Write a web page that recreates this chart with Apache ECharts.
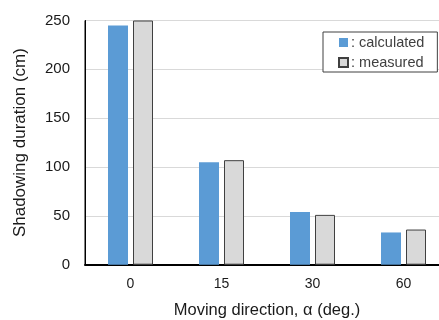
<!DOCTYPE html>
<html>
<head>
<meta charset="utf-8">
<script src="https://cdn.jsdelivr.net/npm/echarts@6/dist/echarts.min.js"></script>
<style>
  html, body { margin: 0; padding: 0; background: #fff; }
  #chart { width: 439px; height: 320px; }
</style>
</head>
<body>
<div id="chart"></div>
<script>
// Shadowing duration by moving direction
const directions = ['0', '15', '30', '60'];
const calculated = [245, 105, 54, 33];
const measured = [250, 107, 51, 36];
const yTicks = [0, 50, 100, 150, 200, 250];

const FONT = '"Liberation Sans", Arial, sans-serif';
const chart = echarts.init(document.getElementById('chart'), null, { renderer: 'canvas' });

chart.setOption({
  animation: false,
  textStyle: { fontFamily: FONT },
  grid: {
    left: 85, right: -10, top: 20.5, bottom: 55.3,
    outerBoundsMode: 'none',
    containLabel: false,
    show: true, borderColor: '#000', borderWidth: 1, backgroundColor: 'transparent'
  },
  legend: {
    orient: 'vertical',
    left: 323, top: 32,
    padding: [3, 13, 2, 15],
    itemGap: 5,
    itemWidth: 9, itemHeight: 9,
    borderColor: '#404040', borderWidth: 1,
    backgroundColor: '#fff',
    icon: 'rect',
    formatter: name => ': ' + name,
    textStyle: { fontFamily: FONT, fontSize: 14.5, color: '#404040', padding: [0, 0, 0, -2] },
    data: ['calculated', 'measured']
  },
  xAxis: {
    type: 'category',
    data: directions,
    axisLine: { lineStyle: { color: '#000', width: 2 } },
    axisTick: { show: false },
    axisLabel: { fontFamily: FONT, fontSize: 14, color: '#1a1a1a', margin: 12 },
    name: 'Moving direction, α (deg.)',
    nameLocation: 'middle',
    nameGap: 37,
    nameTextStyle: { fontFamily: FONT, fontSize: 16.5, color: '#1a1a1a' }
  },
  yAxis: {
    type: 'value',
    min: yTicks[0], max: yTicks[yTicks.length - 1], interval: 50,
    axisLine: { show: true, lineStyle: { color: '#000', width: 1 } },
    axisTick: { show: false },
    splitLine: { lineStyle: { color: '#d9d9d9', width: 1 } },
    axisLabel: { fontFamily: FONT, fontSize: 15, color: '#1a1a1a', margin: 15 },
    name: 'Shadowing duration (cm)',
    nameLocation: 'middle',
    nameGap: 56,
    nameTextStyle: { fontFamily: FONT, fontSize: 17, color: '#1a1a1a' }
  },
  series: [
    {
      name: 'calculated',
      type: 'bar',
      data: calculated,
      barWidth: 20,
      barGap: '25%',
      itemStyle: { color: '#5b9bd5' }
    },
    {
      name: 'measured',
      type: 'bar',
      data: measured,
      barWidth: 20,
      itemStyle: { color: '#d9d9d9', borderColor: '#404040', borderWidth: 1 }
    }
  ]
});
</script>
</body>
</html>
